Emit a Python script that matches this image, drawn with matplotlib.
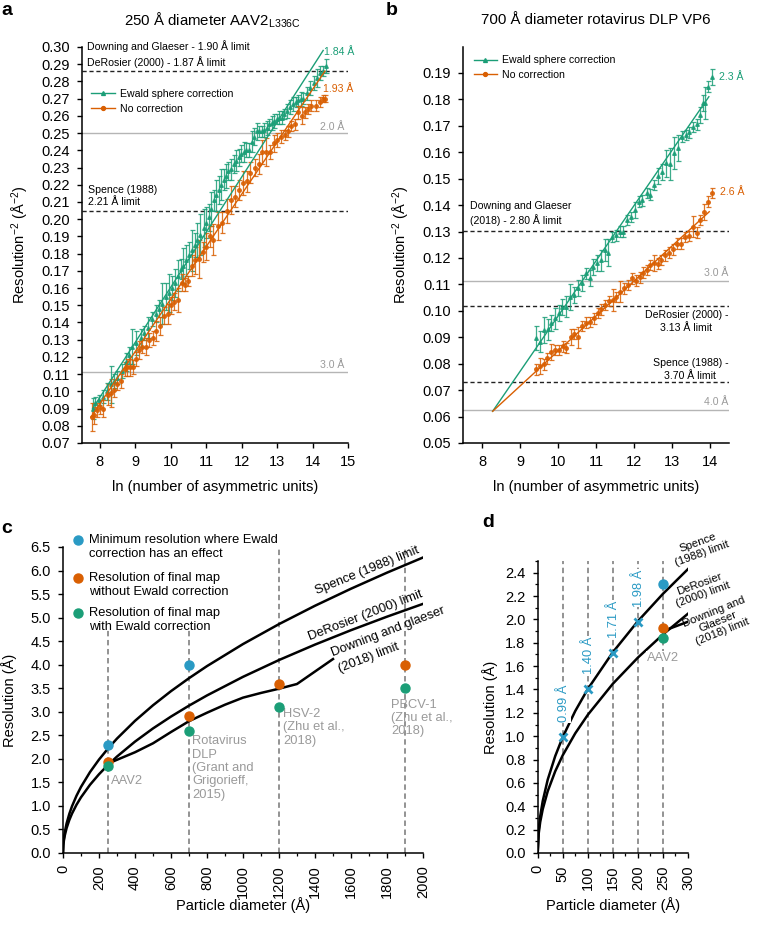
import matplotlib
matplotlib.use("Agg")
import matplotlib.pyplot as plt
from matplotlib.lines import Line2D
from matplotlib.ticker import MultipleLocator, FormatStrFormatter

plt.rcParams['font.family'] = ['Liberation Sans', 'DejaVu Sans']
plt.rcParams['mathtext.default'] = 'regular'

GREEN = '#1b9e77'
ORANGE = '#d95f02'
BLUE = '#2a9ac4'
GRAY_LINE = '#b5b5b5'
GRAY_TXT = '#9a9a9a'

# ---------------- panel a data ----------------
ga_x = [7.80, 7.88, 7.98, 8.08, 8.20, 8.31, 8.40, 8.50, 8.62, 8.73, 8.82, 8.92, 9.03, 9.15, 9.26,
        9.37, 9.48, 9.58, 9.67, 9.76, 9.86, 9.95, 10.04, 10.12, 10.20, 10.28, 10.36, 10.44, 10.52, 10.60,
        10.68, 10.75, 10.84, 10.93, 11.00, 11.07, 11.14, 11.21, 11.28, 11.35, 11.42, 11.49, 11.56, 11.63, 11.70,
        11.78, 11.85, 11.92, 11.99, 12.06, 12.13, 12.20, 12.29, 12.36, 12.43, 12.50, 12.57, 12.64, 12.71, 12.78,
        12.85, 12.92, 12.99, 13.06, 13.13, 13.20, 13.27, 13.36, 13.46, 13.53, 13.60, 13.67, 13.74, 13.83, 13.93,
        14.03, 14.13, 14.22, 14.30, 14.38]
ga_y = [0.090, 0.093, 0.095, 0.097, 0.100, 0.104, 0.106, 0.108, 0.112, 0.117, 0.121, 0.126, 0.128, 0.131, 0.134,
        0.137, 0.142, 0.145, 0.148, 0.151, 0.155, 0.157, 0.160, 0.163, 0.167, 0.171, 0.173, 0.176, 0.179, 0.182,
        0.185, 0.188, 0.191, 0.195, 0.198, 0.201, 0.206, 0.211, 0.214, 0.217, 0.220, 0.223, 0.225, 0.228, 0.229,
        0.232, 0.234, 0.236, 0.238, 0.239, 0.240, 0.240, 0.245, 0.248, 0.251, 0.251, 0.251, 0.252, 0.253, 0.255,
        0.256, 0.257, 0.258, 0.259, 0.259, 0.261, 0.263, 0.265, 0.267, 0.268, 0.269, 0.270, 0.270, 0.273, 0.276,
        0.279, 0.282, 0.285, 0.286, 0.289]
ga_e = [0.006, 0.004, 0.003, 0.004, 0.005, 0.011, 0.004, 0.004, 0.004, 0.005, 0.005, 0.010, 0.007, 0.005, 0.004,
        0.006, 0.004, 0.005, 0.005, 0.012, 0.008, 0.011, 0.007, 0.008, 0.009, 0.006, 0.010, 0.009, 0.008, 0.012,
        0.007, 0.010, 0.012, 0.011, 0.009, 0.008, 0.010, 0.006, 0.009, 0.008, 0.009, 0.006, 0.007, 0.005, 0.006,
        0.005, 0.006, 0.005, 0.005, 0.006, 0.004, 0.004, 0.006, 0.005, 0.005, 0.003, 0.003, 0.004, 0.004, 0.003,
        0.004, 0.004, 0.003, 0.004, 0.004, 0.003, 0.004, 0.004, 0.004, 0.003, 0.003, 0.004, 0.003, 0.004, 0.004,
        0.004, 0.005, 0.004, 0.003, 0.004]

oa_x = [7.78, 7.85, 7.92, 8.00, 8.10, 8.23, 8.32, 8.40, 8.50, 8.60, 8.70, 8.78, 8.86, 8.94, 9.01,
        9.10, 9.20, 9.30, 9.39, 9.50, 9.60, 9.70, 9.81, 9.92, 10.01, 10.10, 10.20, 10.32, 10.41, 10.50,
        10.60, 10.70, 10.80, 10.90, 11.00, 11.10, 11.20, 11.33, 11.45, 11.59, 11.70, 11.80, 11.92, 12.04, 12.15,
        12.25, 12.37, 12.50, 12.57, 12.69, 12.80, 12.90, 13.00, 13.12, 13.22, 13.31, 13.39, 13.50, 13.60, 13.70,
        13.78, 13.87, 13.97, 14.10, 14.20, 14.29, 14.36]
oa_y = [0.085, 0.086, 0.089, 0.091, 0.090, 0.098, 0.099, 0.101, 0.104, 0.106, 0.113, 0.114, 0.114, 0.114, 0.119,
        0.124, 0.126, 0.126, 0.130, 0.131, 0.135, 0.138, 0.144, 0.145, 0.150, 0.152, 0.153, 0.163, 0.162, 0.164,
        0.173, 0.176, 0.177, 0.181, 0.184, 0.190, 0.188, 0.196, 0.198, 0.205, 0.211, 0.213, 0.217, 0.221, 0.222,
        0.227, 0.230, 0.232, 0.239, 0.239, 0.239, 0.244, 0.246, 0.248, 0.249, 0.251, 0.254, 0.255, 0.262, 0.260,
        0.262, 0.264, 0.266, 0.266, 0.268, 0.270, 0.270]
oa_e = [0.008, 0.005, 0.004, 0.004, 0.005, 0.006, 0.008, 0.004, 0.003, 0.004, 0.004, 0.005, 0.005, 0.004, 0.004,
        0.005, 0.004, 0.005, 0.004, 0.004, 0.006, 0.005, 0.005, 0.006, 0.005, 0.005, 0.007, 0.005, 0.004, 0.003,
        0.006, 0.008, 0.011, 0.006, 0.008, 0.006, 0.009, 0.008, 0.006, 0.007, 0.008, 0.006, 0.006, 0.007, 0.006,
        0.006, 0.005, 0.006, 0.007, 0.008, 0.004, 0.005, 0.004, 0.004, 0.003, 0.003, 0.003, 0.003, 0.004, 0.005,
        0.003, 0.003, 0.003, 0.003, 0.003, 0.002, 0.002]

fit_a_green_x = [7.80, 14.30]
fit_a_green_y = [0.090, 0.298]
fit_a_orange_x = [7.75, 14.35]
fit_a_orange_y = [0.085, 0.286]

# ---------------- panel b data ----------------
gb_x = [9.42, 9.53, 9.63, 9.73, 9.82, 9.93, 10.02, 10.11, 10.20, 10.32, 10.42, 10.52, 10.62, 10.73, 10.83,
        10.93, 11.03, 11.13, 11.23, 11.32, 11.43, 11.52, 11.62, 11.71, 11.82, 11.93, 12.02, 12.12, 12.22, 12.33,
        12.43, 12.53, 12.63, 12.74, 12.84, 12.94, 13.05, 13.16, 13.27, 13.36, 13.45, 13.56, 13.65, 13.73, 13.82,
        13.88, 13.95, 14.04]
gb_y = [0.0896, 0.0883, 0.0928, 0.0930, 0.0955, 0.0972, 0.0991, 0.1013, 0.1016, 0.1053, 0.1060, 0.1085, 0.1104,
        0.1142, 0.1123, 0.1167, 0.1180, 0.1192, 0.1230, 0.1220, 0.1280, 0.1285, 0.1300, 0.1300, 0.1344, 0.1355,
        0.1382, 0.1413, 0.1418, 0.1445, 0.1440, 0.1476, 0.1510, 0.1525, 0.1558, 0.1555, 0.1596, 0.1615, 0.1659,
        0.1665, 0.1675, 0.1695, 0.1705, 0.1740, 0.1785, 0.1785, 0.1848, 0.1884]
gb_e = [0.0045, 0.004, 0.005, 0.004, 0.003, 0.004, 0.003, 0.003, 0.004, 0.005, 0.003, 0.003, 0.003, 0.002, 0.003,
        0.003, 0.003, 0.004, 0.004, 0.005, 0.002, 0.002, 0.002, 0.002, 0.002, 0.002, 0.003, 0.002, 0.002, 0.002,
        0.002, 0.002, 0.003, 0.003, 0.005, 0.006, 0.006, 0.005, 0.002, 0.002, 0.002, 0.002, 0.002, 0.003, 0.003,
        0.006, 0.002, 0.003]

ob_x = [9.41, 9.52, 9.62, 9.72, 9.82, 9.93, 10.02, 10.12, 10.22, 10.33, 10.43, 10.53, 10.64, 10.73, 10.83,
        10.94, 11.04, 11.14, 11.24, 11.34, 11.44, 11.53, 11.64, 11.74, 11.84, 11.95, 12.05, 12.15, 12.24, 12.33,
        12.43, 12.53, 12.63, 12.72, 12.82, 12.92, 13.03, 13.13, 13.23, 13.34, 13.44, 13.54, 13.65, 13.73, 13.84,
        13.94, 14.04]
ob_y = [0.0779, 0.0790, 0.0797, 0.0820, 0.0843, 0.0852, 0.0852, 0.0866, 0.0860, 0.0900, 0.0913, 0.0900, 0.0943,
        0.0955, 0.0958, 0.0972, 0.0991, 0.1006, 0.1022, 0.1038, 0.1041, 0.1053, 0.1072, 0.1085, 0.1098, 0.1123,
        0.1114, 0.1127, 0.1144, 0.1154, 0.1173, 0.1180, 0.1178, 0.1192, 0.1210, 0.1220, 0.1233, 0.1254, 0.1254,
        0.1280, 0.1283, 0.1318, 0.1296, 0.1344, 0.1375, 0.1413, 0.1445]
ob_e = [0.002, 0.003, 0.002, 0.002, 0.003, 0.002, 0.002, 0.002, 0.002, 0.003, 0.002, 0.004, 0.002, 0.002, 0.002,
        0.002, 0.002, 0.002, 0.002, 0.002, 0.004, 0.002, 0.004, 0.002, 0.002, 0.002, 0.002, 0.002, 0.002, 0.002,
        0.002, 0.003, 0.002, 0.002, 0.002, 0.002, 0.002, 0.002, 0.002, 0.002, 0.002, 0.004, 0.002, 0.002, 0.003,
        0.002, 0.002]

fit_b_green_x = [8.28, 13.97]
fit_b_green_y = [0.062, 0.181]
fit_b_orange_x = [8.28, 13.98]
fit_b_orange_y = [0.062, 0.1375]

# ---------------- panel c / d data ----------------
diam = [0, 2, 5, 10, 20, 35, 50, 75, 100, 150, 200, 250, 300, 400, 500, 600, 700, 800, 1000, 1200, 1400,
        1600, 1800, 2000]
spence_res = [0, 0.198, 0.314, 0.444, 0.628, 0.830, 0.993, 1.216, 1.404, 1.719, 1.985, 2.219, 2.431, 2.807,
              3.138, 3.438, 3.713, 3.970, 4.438, 4.862, 5.252, 5.614, 5.955, 6.277]
derosier_res = [0, 0.167, 0.265, 0.374, 0.529, 0.700, 0.837, 1.025, 1.183, 1.449, 1.673, 1.871, 2.049, 2.366,
                2.646, 2.898, 3.130, 3.347, 3.742, 4.099, 4.427, 4.733, 5.020, 5.292]
downing_diam = [250, 300, 400, 500, 600, 700, 800, 900, 1000, 1100, 1200, 1300, 1500]
downing_res = [1.90, 1.98, 2.14, 2.33, 2.57, 2.80, 2.98, 3.15, 3.30, 3.40, 3.49, 3.59, 4.12]

c_diam = [250, 700, 1200, 1900]
c_min_res = [2.3, 4.0, None, None]
c_no_corr = [1.93, 2.9, 3.6, 4.0]
c_ewald = [1.84, 2.6, 3.1, 3.5]
c_vline_top = [4.78, 4.78, 6.5, 6.5]

d_diam = [50, 100, 150, 200]
d_res = [0.99, 1.40, 1.71, 1.98]
d_labels = ['0.99 Å', '1.40 Å', '1.71 Å', '1.98 Å']
d_vlines = [50, 100, 150, 200, 250]

W, H = 763, 926
fig = plt.figure(figsize=(W / 100, H / 100), dpi=100)


def ax_px(l, r, b, t):
    return fig.add_axes([l / W, 1 - b / H, (r - l) / W, (b - t) / H])


def style(ax, fs=10.5):
    for s in ['top', 'right']:
        ax.spines[s].set_visible(False)
    for s in ['left', 'bottom']:
        ax.spines[s].set_linewidth(1.1)
    ax.tick_params(direction='out', length=3.8, width=1.0, labelsize=fs, pad=5)
    ax.tick_params(which='minor', direction='out', length=2.3, width=0.9)


DASH = (0, (3, 2))

# ================= panel a =================
axA = ax_px(82, 348, 443, 47)
style(axA)
axA.set_xlim(7.5, 15)
axA.set_ylim(0.07, 0.30)
axA.xaxis.set_major_locator(MultipleLocator(1))
axA.yaxis.set_major_locator(MultipleLocator(0.01))
axA.yaxis.set_major_formatter(FormatStrFormatter('%.2f'))

axA.axhline(0.25, color=GRAY_LINE, lw=1.0, zorder=1)
axA.axhline(0.1111, color=GRAY_LINE, lw=1.0, zorder=1)
axA.axhline(0.286, color='#222222', lw=1.0, ls=DASH, zorder=1)
axA.axhline(0.2047, color='#222222', lw=1.0, ls=DASH, zorder=1)

axA.errorbar(ga_x, ga_y, yerr=ga_e, fmt='^', ms=2.6, color=GREEN, ecolor=GREEN, alpha=0.85,
             elinewidth=0.9, capsize=1.8, capthick=0.9, zorder=3)
axA.errorbar(oa_x, oa_y, yerr=oa_e, fmt='o', ms=2.6, color=ORANGE, ecolor=ORANGE, alpha=0.85,
             elinewidth=0.9, capsize=1.8, capthick=0.9, zorder=3)
axA.plot(fit_a_green_x, fit_a_green_y, color=GREEN, lw=1.0, zorder=4)
axA.plot(fit_a_orange_x, fit_a_orange_y, color=ORANGE, lw=1.0, zorder=4)

fsA = 7.6
axA.text(7.64, 0.3003, 'Downing and Glaeser - 1.90 Å limit', fontsize=fsA, va='center', ha='left')
axA.text(7.64, 0.2915, 'DeRosier (2000) - 1.87 Å limit', fontsize=fsA, va='center', ha='left')
axA.text(7.67, 0.2135, 'Spence (1988)\n2.21 Å limit', fontsize=fsA, va='center', ha='left', linespacing=1.3)
axA.text(14.9, 0.2508, '2.0 Å', fontsize=fsA, color=GRAY_TXT, ha='right', va='bottom')
axA.text(14.9, 0.1125, '3.0 Å', fontsize=fsA, color=GRAY_TXT, ha='right', va='bottom')
axA.text(14.33, 0.2973, '1.84 Å', fontsize=fsA, color=GREEN, ha='left', va='center')
axA.text(14.30, 0.2754, '1.93 Å', fontsize=fsA, color=ORANGE, ha='left', va='center')

handles = [Line2D([], [], color=GREEN, marker='^', ms=2.8, lw=1.0),
           Line2D([], [], color=ORANGE, marker='o', ms=2.8, lw=1.0)]
axA.legend(handles, ['Ewald sphere correction', 'No correction'], loc='upper left',
           bbox_to_anchor=(0.035, 0.894), frameon=False, fontsize=7.6, handlelength=2.2,
           handletextpad=0.5, labelspacing=0.45, borderaxespad=0, borderpad=0)

axA.set_xlabel('ln (number of asymmetric units)', fontsize=10.5)
axA.xaxis.set_label_coords(0.5, -0.111)
axA.xaxis.label.set_va('center')
axA.set_ylabel('Resolution$^{-2}$ (Å$^{-2}$)', fontsize=10.5)
axA.yaxis.set_label_coords(-0.23, 0.5)
axA.yaxis.label.set_va('center')

fig.text(212 / W, 1 - 20 / H, '250 Å diameter AAV2$_{L336C}$', fontsize=10.8, ha='center', va='center')

# ================= panel b =================
axB = ax_px(463, 729, 443, 46.5)
style(axB)
axB.set_xlim(7.5, 14.5)
axB.set_ylim(0.05, 0.20)
axB.set_xticks([8, 9, 10, 11, 12, 13, 14])
axB.set_yticks([0.05, 0.06, 0.07, 0.08, 0.09, 0.10, 0.11, 0.12, 0.13, 0.14, 0.15, 0.16, 0.17, 0.18, 0.19])
axB.yaxis.set_major_formatter(FormatStrFormatter('%.2f'))

axB.axhline(0.1111, color=GRAY_LINE, lw=1.0, zorder=1)
axB.axhline(0.0625, color=GRAY_LINE, lw=1.0, zorder=1)
axB.axhline(0.1302, color='#222222', lw=1.0, ls=DASH, zorder=1)
axB.axhline(0.1020, color='#222222', lw=1.0, ls=DASH, zorder=1)
axB.axhline(0.0730, color='#222222', lw=1.0, ls=DASH, zorder=1)

axB.errorbar(gb_x, gb_y, yerr=gb_e, fmt='^', ms=2.6, color=GREEN, ecolor=GREEN, alpha=0.85,
             elinewidth=0.9, capsize=1.8, capthick=0.9, zorder=3)
axB.errorbar(ob_x, ob_y, yerr=ob_e, fmt='o', ms=2.6, color=ORANGE, ecolor=ORANGE, alpha=0.85,
             elinewidth=0.9, capsize=1.8, capthick=0.9, zorder=3)
axB.plot(fit_b_green_x, fit_b_green_y, color=GREEN, lw=1.0, zorder=4)
axB.plot(fit_b_orange_x, fit_b_orange_y, color=ORANGE, lw=1.0, zorder=4)

axB.text(14.24, 0.1884, '2.3 Å', fontsize=fsA, color=GREEN, ha='left', va='center')
axB.text(14.25, 0.1451, '2.6 Å', fontsize=fsA, color=ORANGE, ha='left', va='center')
axB.text(7.68, 0.1368, 'Downing and Glaeser\n(2018) - 2.80 Å limit', fontsize=fsA, ha='left', va='center',
         linespacing=1.3)
axB.text(14.48, 0.0960, 'DeRosier (2000) -\n3.13 Å limit', fontsize=fsA, ha='right', va='center',
         multialignment='center', linespacing=1.3)
axB.text(14.48, 0.0778, 'Spence (1988) -\n3.70 Å limit', fontsize=fsA, ha='right', va='center',
         multialignment='center', linespacing=1.3)
axB.text(14.48, 0.1125, '3.0 Å', fontsize=fsA, color=GRAY_TXT, ha='right', va='bottom')
axB.text(14.48, 0.0638, '4.0 Å', fontsize=fsA, color=GRAY_TXT, ha='right', va='bottom')

axB.legend(handles, ['Ewald sphere correction', 'No correction'], loc='upper left',
           bbox_to_anchor=(0.04, 0.978), frameon=False, fontsize=7.6, handlelength=2.2,
           handletextpad=0.5, labelspacing=0.45, borderaxespad=0, borderpad=0)

axB.set_xlabel('ln (number of asymmetric units)', fontsize=10.5)
axB.xaxis.set_label_coords(0.5, -0.111)
axB.xaxis.label.set_va('center')
axB.set_ylabel('Resolution$^{-2}$ (Å$^{-2}$)', fontsize=10.5)
axB.yaxis.set_label_coords(-0.233, 0.5)
axB.yaxis.label.set_va('center')

fig.text(596 / W, 1 - 20 / H, '700 Å diameter rotavirus DLP VP6', fontsize=10.8, ha='center', va='center')

# ================= panel c =================
axC = ax_px(63, 423, 853, 547)
style(axC)
axC.set_xlim(0, 2000)
axC.set_ylim(0, 6.5)
axC.xaxis.set_major_locator(MultipleLocator(200))
axC.xaxis.set_minor_locator(MultipleLocator(100))
axC.yaxis.set_major_locator(MultipleLocator(0.5))
axC.yaxis.set_major_formatter(FormatStrFormatter('%.1f'))
axC.tick_params(axis='x', labelrotation=90)

for xv, top in zip(c_diam, c_vline_top):
    axC.plot([xv, xv], [0, top], color='#8a8a8a', lw=1.3, ls=DASH, zorder=1)

axC.plot(diam, spence_res, color='black', lw=1.8, zorder=2)
axC.plot(diam, derosier_res, color='black', lw=1.8, zorder=2)
axC.plot(downing_diam, downing_res, color='black', lw=1.8, zorder=2)

for xv, yv in zip(c_diam, c_min_res):
    if yv is not None:
        axC.plot(xv, yv, 'o', color=BLUE, ms=6.5, zorder=5)
axC.plot(c_diam, c_no_corr, 'o', color=ORANGE, ms=6.5, zorder=5, lw=0)
axC.plot(c_diam, c_ewald, 'o', color=GREEN, ms=6.5, zorder=5, lw=0)

fsC = 9.3
axC.text(265, 1.65, 'AAV2', fontsize=fsC, color=GRAY_TXT, ha='left', va='top')
axC.text(718, 2.5, 'Rotavirus\nDLP\n(Grant and\nGrigorieff,\n2015)', fontsize=fsC, color=GRAY_TXT,
         ha='left', va='top', linespacing=1.15)
axC.text(1222, 3.08, 'HSV-2\n(Zhu et al.,\n2018)', fontsize=fsC, color=GRAY_TXT, ha='left', va='top',
         linespacing=1.15)
axC.text(1822, 3.28, 'PBCV-1\n(Zhu et al.,\n2018)', fontsize=fsC, color=GRAY_TXT, ha='left', va='top',
         linespacing=1.15)

axC.text(1410, 5.50, 'Spence (1988) limit', fontsize=fsC, rotation=22, rotation_mode='anchor',
         ha='left', va='baseline')
axC.text(1370, 4.52, 'DeRosier (2000) limit', fontsize=fsC, rotation=21, rotation_mode='anchor',
         ha='left', va='baseline')
axC.text(1500, 4.18, 'Downing and glaeser', fontsize=fsC, rotation=21, rotation_mode='anchor',
         ha='left', va='baseline')
axC.text(1540, 3.84, '(2018) limit', fontsize=fsC, rotation=21, rotation_mode='anchor',
         ha='left', va='baseline')

leg_items = [(BLUE, 'Minimum resolution where Ewald\ncorrection has an effect', 1.023),
             (ORANGE, 'Resolution of final map\nwithout Ewald correction', 0.899),
             (GREEN, 'Resolution of final map\nwith Ewald correction', 0.784)]
for col, txt, yy in leg_items:
    axC.plot([0.0417], [yy], 'o', color=col, ms=6.5, transform=axC.transAxes, clip_on=False)
    axC.text(0.072, yy + 0.02, txt, fontsize=fsC, transform=axC.transAxes, ha='left', va='top',
             linespacing=1.2)

axC.set_xlabel('Particle diameter (Å)', fontsize=10.5)
axC.xaxis.set_label_coords(0.5, -0.17)
axC.xaxis.label.set_va('center')
axC.set_ylabel('Resolution (Å)', fontsize=10.5)
axC.yaxis.set_label_coords(-0.15, 0.5)
axC.yaxis.label.set_va('center')

# ================= panel d =================
axD = ax_px(537.7, 688, 853, 561)
style(axD)
axD.set_xlim(0, 300)
axD.set_ylim(0, 2.5)
axD.xaxis.set_major_locator(MultipleLocator(50))
axD.xaxis.set_minor_locator(MultipleLocator(25))
axD.set_yticks([0.0, 0.2, 0.4, 0.6, 0.8, 1.0, 1.2, 1.4, 1.6, 1.8, 2.0, 2.2, 2.4])
axD.yaxis.set_minor_locator(MultipleLocator(0.1))
axD.yaxis.set_major_formatter(FormatStrFormatter('%.1f'))
axD.tick_params(axis='x', labelrotation=90)

for xv in d_vlines:
    axD.plot([xv, xv], [0, 2.5], color='#8a8a8a', lw=1.3, ls=DASH, zorder=1)

d_cut = 13
axD.plot(diam[:d_cut], spence_res[:d_cut], color='black', lw=1.8, zorder=2)
axD.plot(diam[:d_cut], derosier_res[:d_cut], color='black', lw=1.8, zorder=2)
axD.plot(downing_diam[:2], downing_res[:2], color='black', lw=1.8, zorder=2)

axD.plot(d_diam, d_res, 'x', color=BLUE, ms=6, mew=2, lw=0, zorder=5)
for xv, yv, lab in zip(d_diam, d_res, d_labels):
    axD.text(xv + 3, yv + 0.13, lab, fontsize=fsC, color=BLUE, rotation=90, ha='center', va='bottom',
             bbox=dict(facecolor='white', edgecolor='none', pad=0.5), zorder=4)

axD.plot([c_diam[0]], [c_min_res[0]], 'o', color=BLUE, ms=6.5, zorder=5)
axD.plot([c_diam[0]], [c_no_corr[0]], 'o', color=ORANGE, ms=6.5, zorder=5)
axD.plot([c_diam[0]], [c_ewald[0]], 'o', color=GREEN, ms=6.5, zorder=5)
axD.text(250, 1.72, 'AAV2', fontsize=fsC, color=GRAY_TXT, ha='center', va='top',
         bbox=dict(facecolor='white', edgecolor='none', pad=0.5), zorder=4)

fsD = 8.2
axD.text(324, 2.61, 'Spence\n(1988) limit', fontsize=fsD, rotation=20, rotation_mode='anchor',
         ha='center', va='center', multialignment='center', linespacing=1.1)
axD.text(326, 2.26, 'DeRosier\n(2000) limit', fontsize=fsD, rotation=20, rotation_mode='anchor',
         ha='center', va='center', multialignment='center', linespacing=1.1)
axD.text(360, 1.98, 'Downing and\nGlaeser\n(2018) limit', fontsize=fsD, rotation=22, rotation_mode='anchor',
         ha='center', va='center', multialignment='center', linespacing=1.1)

axD.set_xlabel('Particle diameter (Å)', fontsize=10.5)
axD.xaxis.set_label_coords(0.5, -0.178)
axD.xaxis.label.set_va('center')
axD.set_ylabel('Resolution (Å)', fontsize=10.5)
axD.yaxis.set_label_coords(-0.317, 0.5)
axD.yaxis.label.set_va('center')

# panel letters
fig.text(1 / W, 1 - 2 / H, 'a', fontsize=14, fontweight='bold', ha='left', va='top')
fig.text(386 / W, 1 - 2 / H, 'b', fontsize=14, fontweight='bold', ha='left', va='top')
fig.text(1 / W, 1 - 520 / H, 'c', fontsize=14, fontweight='bold', ha='left', va='top')
fig.text(482 / W, 1 - 514 / H, 'd', fontsize=14, fontweight='bold', ha='left', va='top')

fig.savefig('out.png', dpi=100)
